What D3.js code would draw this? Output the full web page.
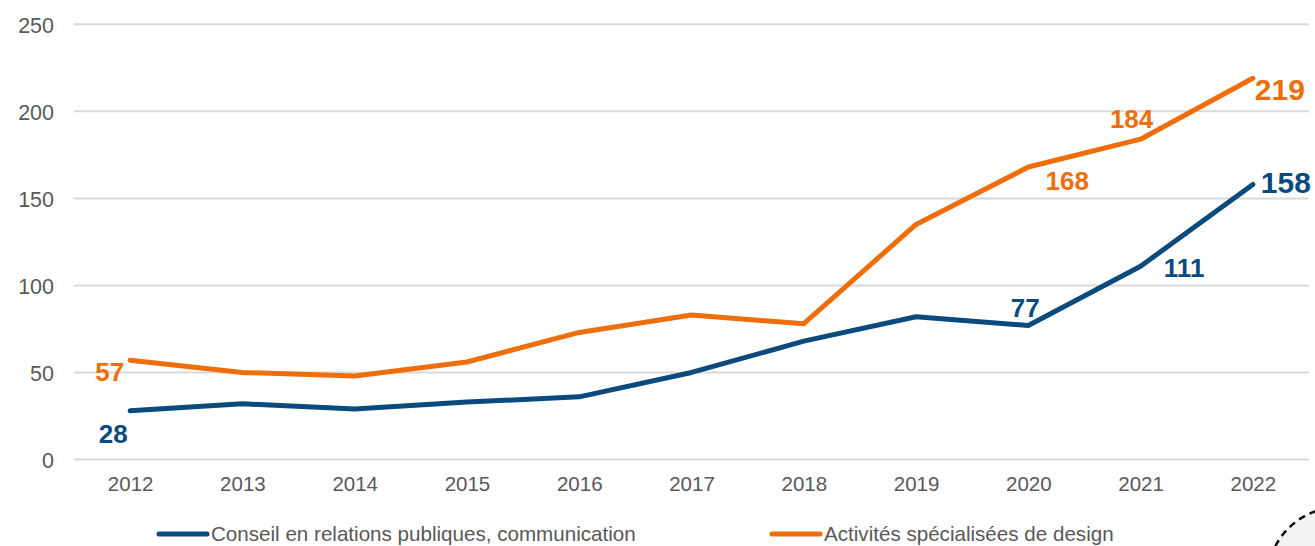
<!DOCTYPE html>
<html>
<head>
<meta charset="utf-8">
<script src="https://cdn.jsdelivr.net/npm/d3@7"></script>
<style>
  html, body { margin: 0; padding: 0; background: #ffffff; }
  svg { display: block; }
</style>
</head>
<body>
<svg id="chart" width="1315" height="546"></svg>
<script>
// ---- Data ----
const years = ["2012","2013","2014","2015","2016","2017","2018","2019","2020","2021","2022"];
const conseil = [28, 32, 29, 33, 36, 50, 68, 82, 77, 111, 158];
const design = [57, 50, 48, 56, 73, 83, 78, 135, 168, 184, 219];
const yTicks = [0, 50, 100, 150, 200, 250];
const seriesNames = ["Conseil en relations publiques, communication", "Activités spécialisées de design"];
// which points get a value label
const conseilLabeled = [0, 8, 9, 10];
const designLabeled = [0, 8, 9, 10];

// ---- Layout ----
const W = 1315, H = 546;
const plot = { left: 74, right: 1309, top: 24.3, bottom: 459.5 };
const colors = { conseil: "#0b4a7d", design: "#ee6e0b", grid: "#d9d9d9", text: "#595959" };
const FONT = "'Liberation Sans', Arial, Helvetica, sans-serif";

const svg = d3.select("#chart");

const x = d3.scalePoint().domain(years).range([plot.left, plot.right]).padding(0.5);
const y = d3.scaleLinear().domain([0, 250]).range([plot.bottom, plot.top]);

// gridlines
svg.append("g").selectAll("line").data(yTicks).join("line")
  .attr("x1", plot.left).attr("x2", plot.right)
  .attr("y1", d => y(d)).attr("y2", d => y(d))
  .attr("stroke", colors.grid).attr("stroke-width", 2);

// y axis labels
const yAxis = svg.append("g").attr("transform", `translate(${plot.left - 20},0)`)
  .call(d3.axisLeft(y).tickValues(yTicks).tickSize(0).tickPadding(0));
yAxis.select(".domain").remove();
yAxis.selectAll("text").attr("font-family", FONT).attr("font-size", 21.5)
  .attr("fill", colors.text).attr("dy", "0.36em");

// x axis labels
const xAxis = svg.append("g").attr("transform", `translate(0,${plot.bottom + 17})`)
  .call(d3.axisBottom(x).tickSize(0).tickPadding(0));
xAxis.select(".domain").remove();
xAxis.selectAll("text").attr("font-family", FONT).attr("font-size", 20.5)
  .attr("fill", colors.text).attr("dy", "0.71em");

// lines
const line = d3.line().x((d, i) => x(years[i])).y(d => y(d));
svg.append("path").datum(design).attr("d", line)
  .attr("fill", "none").attr("stroke", colors.design).attr("stroke-width", 5)
  .attr("stroke-linejoin", "round").attr("stroke-linecap", "round");
svg.append("path").datum(conseil).attr("d", line)
  .attr("fill", "none").attr("stroke", colors.conseil).attr("stroke-width", 5)
  .attr("stroke-linejoin", "round").attr("stroke-linecap", "round");

// value labels (offsets relative to point)
const conseilPlace = { 0: [-17, 32, "middle", 26], 8: [-3, -8.5, "middle", 26], 9: [43.5, 10.5, "middle", 26], 10: [8, 9, "start", 30] };
const designPlace  = { 0: [-6, 21, "end", 26], 8: [39, 23, "middle", 26], 9: [-9, -11, "middle", 26], 10: [2, 22, "start", 30] };

function labels(values, idx, place, color) {
  svg.append("g").selectAll("text").data(idx).join("text")
    .attr("x", i => x(years[i]) + place[i][0])
    .attr("y", i => y(values[i]) + place[i][1])
    .attr("text-anchor", i => place[i][2])
    .attr("font-size", i => place[i][3])
    .attr("font-family", FONT).attr("font-weight", "bold")
    .attr("fill", color)
    .text(i => values[i]);
}
labels(conseil, conseilLabeled, conseilPlace, colors.conseil);
labels(design, designLabeled, designPlace, colors.design);

// legend
const legendItems = [
  { name: seriesNames[0], color: colors.conseil, x0: 159 },
  { name: seriesNames[1], color: colors.design, x0: 772 }
];
const lg = svg.append("g").selectAll("g").data(legendItems).join("g")
  .attr("transform", d => `translate(${d.x0},534)`);
lg.append("line").attr("x1", 0).attr("x2", 48).attr("y1", 0).attr("y2", 0)
  .attr("stroke", d => d.color).attr("stroke-width", 5).attr("stroke-linecap", "round");
lg.append("text").attr("x", 52).attr("y", 0).attr("dy", "0.33em")
  .attr("font-family", FONT).attr("font-size", 20.6).attr("fill", colors.text)
  .text(d => d.name);

// decorative dashed circle in the corner
svg.append("circle").attr("cx", 1340).attr("cy", 580).attr("r", 73)
  .attr("fill", "#f2f2f2").attr("stroke", "#111").attr("stroke-width", 2.5)
  .attr("stroke-dasharray", "7,5");
</script>
</body>
</html>
